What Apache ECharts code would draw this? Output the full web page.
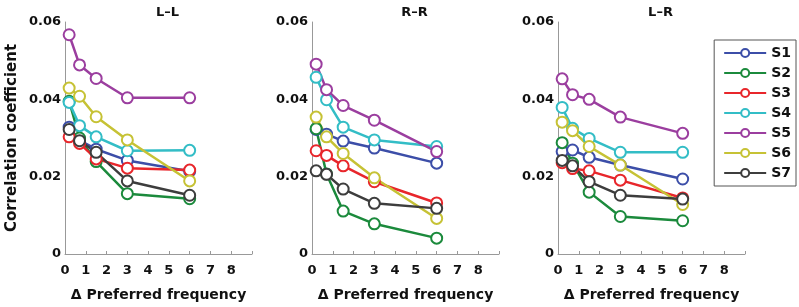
<!DOCTYPE html>
<html>
<head>
<meta charset="utf-8">
<script src="https://cdn.jsdelivr.net/npm/echarts@6/dist/echarts.min.js"></script>
<style>
  html, body { margin: 0; padding: 0; background: #fff; }
  #chart { width: 799px; height: 307px; }
</style>
</head>
<body>
<div id="chart"></div>
<script>
// 数据
var xValues = [0.2, 0.7, 1.5, 3, 6];
var xTicks = [0, 1, 2, 3, 4, 5, 6, 7, 8];
var yTicks = [0, 0.02, 0.04, 0.06];
var panelTitles = ['L\u2013L', 'R\u2013R', 'L\u2013R'];
var subjects = ['S1', 'S2', 'S3', 'S4', 'S5', 'S6', 'S7'];
var colors = ['#3c4ea8', '#1b8a3c', '#e8262b', '#33bdc6', '#9b3e9f', '#c6c235', '#3d3d3d'];

var llValues = [
  [0.0328, 0.0294, 0.0271, 0.0242, 0.0214],
  [0.0395, 0.0300, 0.0239, 0.0156, 0.0143],
  [0.0303, 0.0286, 0.0246, 0.0222, 0.0217],
  [0.0392, 0.0332, 0.0303, 0.0267, 0.0268],
  [0.0567, 0.0489, 0.0454, 0.0404, 0.0404],
  [0.0429, 0.0408, 0.0355, 0.0295, 0.0189],
  [0.0322, 0.0293, 0.0263, 0.0189, 0.0152]
];
var rrValues = [
  [0.0322, 0.0310, 0.0292, 0.0274, 0.0235],
  [0.0324, 0.0207, 0.0111, 0.0078, 0.0041],
  [0.0267, 0.0255, 0.0228, 0.0187, 0.0132],
  [0.0457, 0.0399, 0.0328, 0.0295, 0.0278],
  [0.0491, 0.0425, 0.0384, 0.0346, 0.0265],
  [0.0354, 0.0303, 0.0260, 0.0197, 0.0092],
  [0.0215, 0.0206, 0.0168, 0.0131, 0.0118]
];
var lrValues = [
  [0.0265, 0.0269, 0.0250, 0.0230, 0.0194],
  [0.0288, 0.0235, 0.0160, 0.0097, 0.0086],
  [0.0236, 0.0221, 0.0215, 0.0191, 0.0145],
  [0.0379, 0.0325, 0.0299, 0.0263, 0.0263],
  [0.0453, 0.0412, 0.0400, 0.0354, 0.0312],
  [0.0341, 0.0319, 0.0278, 0.0230, 0.0128],
  [0.0242, 0.0228, 0.0187, 0.0152, 0.0142]
];
var panelValues = [llValues, rrValues, lrValues];

var font = 'DejaVu Sans';
var panelLefts = [65, 312, 558];
var gridWidth = 187;

var grids = [], xAxes = [], yAxes = [], titles = [], series = [];

for (var p = 0; p < 3; p++) {
  grids.push({ left: panelLefts[p], top: 22, width: gridWidth, height: 237 });

  titles.push({
    text: panelTitles[p],
    left: panelLefts[p] + gridWidth / 2 + 4,
    top: 1,
    textAlign: 'center',
    textStyle: { fontFamily: font, fontSize: 13, fontWeight: 'bold', color: '#111' }
  });

  xAxes.push({
    gridIndex: p,
    type: 'value',
    min: 0,
    max: 9,
    interval: 1,
    name: '\u0394 Preferred frequency',
    nameLocation: 'middle',
    nameGap: 34,
    nameTextStyle: { fontFamily: font, fontSize: 14, fontWeight: 'bold', color: '#111' },
    axisLine: { lineStyle: { color: '#999', width: 1 } },
    axisTick: { inside: true, length: 3, lineStyle: { color: '#999' } },
    splitLine: { show: false },
    axisLabel: {
      margin: 10,
      fontFamily: font, fontSize: 13, fontWeight: 'bold', color: '#111',
      formatter: function (v) { return xTicks.indexOf(v) >= 0 ? String(v) : ''; }
    }
  });

  yAxes.push({
    gridIndex: p,
    type: 'value',
    min: 0,
    max: 0.06,
    interval: 0.02,
    name: p === 0 ? 'Correlation coefficient' : '',
    nameLocation: 'middle',
    nameGap: 45,
    nameTextStyle: { fontFamily: font, fontSize: 15, fontWeight: 'bold', color: '#111' },
    axisLine: { show: true, lineStyle: { color: '#999', width: 1 } },
    axisTick: { show: false },
    splitLine: { show: false },
    axisLabel: {
      margin: 4,
      fontFamily: font, fontSize: 13, fontWeight: 'bold', color: '#111',
      formatter: function (v) {
        for (var k = 0; k < yTicks.length; k++) {
          if (Math.abs(v - yTicks[k]) < 1e-9) return v === 0 ? '0' : v.toFixed(2);
        }
        return '';
      }
    }
  });

  for (var s = 0; s < subjects.length; s++) {
    var pts = [];
    for (var i = 0; i < xValues.length; i++) {
      pts.push([xValues[i], panelValues[p][s][i]]);
    }
    series.push({
      name: subjects[s],
      type: 'line',
      xAxisIndex: p,
      yAxisIndex: p,
      data: pts,
      symbol: 'emptyCircle',
      symbolSize: 11,
      lineStyle: { width: 2.5, color: colors[s] },
      itemStyle: { color: colors[s], borderWidth: 2.5 },
      animation: false
    });
  }
}

var myChart = echarts.init(document.getElementById('chart'));
myChart.setOption({
  color: colors,
  title: titles,
  grid: grids,
  xAxis: xAxes,
  yAxis: yAxes,
  legend: {
    data: subjects,
    orient: 'vertical',
    right: 3,
    top: 40,
    itemWidth: 42,
    itemHeight: 10,
    itemGap: 6,
    padding: [6, 5, 6, 9],
    borderColor: '#555',
    borderWidth: 1,
    backgroundColor: '#fff',
    textStyle: { fontFamily: font, fontSize: 14, fontWeight: 'bold', color: '#111' }
  },
  series: series
});
</script>
</body>
</html>
